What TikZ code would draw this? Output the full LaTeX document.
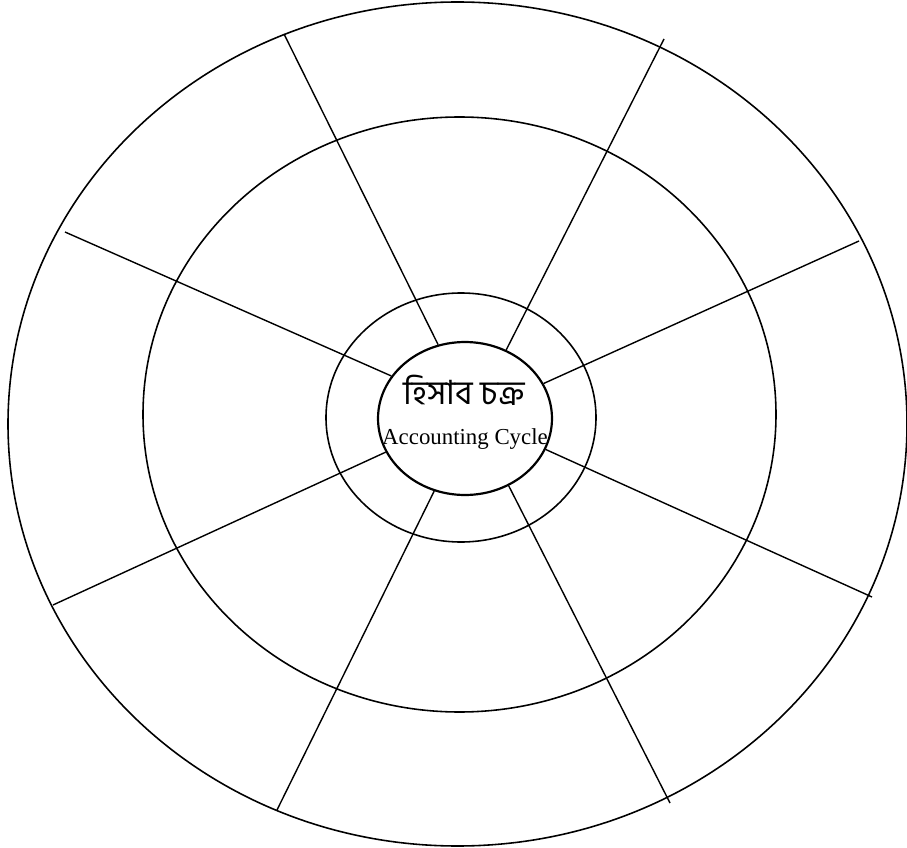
\documentclass[tikz,border=0pt]{standalone}
\usepackage{fontspec}
\setmainfont{Liberation Serif}
\newfontfamily\bnfont[Script=Bengali]{Hind Siliguri}
\usepackage{tikz}
\usetikzlibrary{shapes.geometric}
\tikzset{
  ring/.style={draw=black,line width=0.9pt},
  spoke/.style={draw=black,line width=0.8pt},
  hubnode/.style={ellipse,draw=black,line width=1.25pt,inner sep=0pt,
    minimum width=3.48cm,minimum height=3.06cm},
  hubtext/.style={inner sep=0pt,anchor=base},
}

\begin{document}
\begin{tikzpicture}[x=0.02cm,y=-0.02cm]
  \useasboundingbox (0,0) rectangle (907,848);
  % rings, outside in
  \draw[ring] (457.5,424) ellipse [x radius=449.5,y radius=422];
  \draw[ring] (459.5,414.5) ellipse [x radius=316.5,y radius=297.5];
  \draw[ring] (461,417.5) ellipse [x radius=135,y radius=124.5];
  \node[hubnode] (hub) at (465,418.5) {};
  \node[hubtext,text depth=0pt] (bn) at (464,404)
    {\bnfont\fontsize{19}{22}\selectfont হিসাব চক্র};
  \node[hubtext] (en) at (465,444) {\fontsize{13}{15}\selectfont Accounting Cycle};
  % outer ends of the spokes
  \coordinate (o1) at (284,34);
  \coordinate (o2) at (664,39);
  \coordinate (o3) at (859,241);
  \coordinate (o4) at (872,597);
  \coordinate (o5) at (670,803);
  \coordinate (o6) at (277,810);
  \coordinate (o7) at (53,605);
  \coordinate (o8) at (65,232);
  \draw[spoke] (hub.110) -- (o1);
  \draw[spoke] (hub.59) -- (o2);
  \draw[spoke] (hub.24.5) -- (o3);
  \draw[spoke] (hub.-21.6) -- (o4);
  \draw[spoke] (hub.-57.3) -- (o5);
  \draw[spoke] (hub.247.8) -- (o6);
  \draw[spoke] (hub.203.9) -- (o7);
  \draw[spoke] (hub.150.7) -- (o8);
\end{tikzpicture}
\end{document}
